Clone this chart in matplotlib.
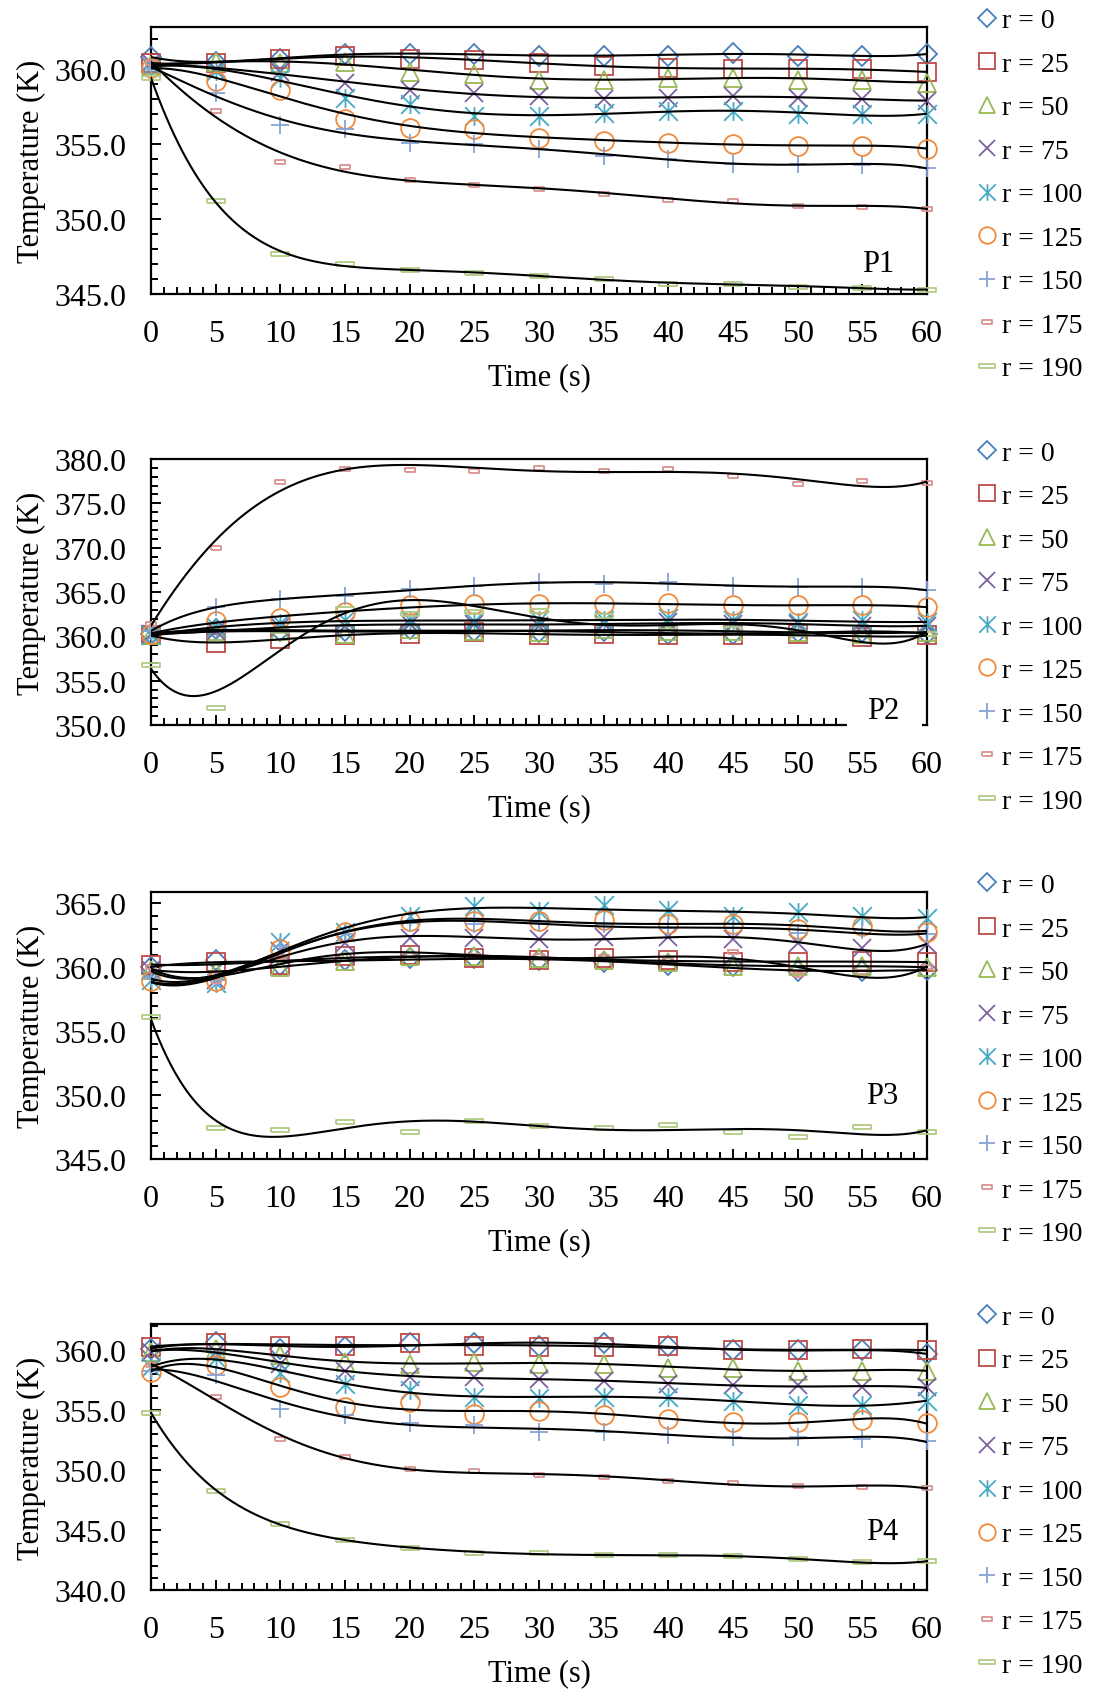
"""Radial temperature histories at four probe positions (P1-P4)."""
import matplotlib

matplotlib.use("Agg")
import matplotlib.pyplot as plt
import numpy as np
from matplotlib.lines import Line2D
from matplotlib.patches import Rectangle
from matplotlib.path import Path
from matplotlib.ticker import FormatStrFormatter, MultipleLocator

plt.rcParams["font.family"] = ["Liberation Serif", "DejaVu Serif"]

time_s = [0, 5, 10, 15, 20, 25, 30, 35, 40, 45, 50, 55, 60]
radii = [0, 25, 50, 75, 100, 125, 150, 175, 190]

# one row per radius, same order as `radii`
p1_temps = [
    [360.8, 360.5, 360.7, 361.0, 361.0, 361.0, 360.9, 360.9, 360.9, 361.1, 360.9, 360.9, 361.0],
    [360.4, 360.4, 360.7, 360.9, 360.7, 360.6, 360.4, 360.2, 360.1, 360.0, 360.0, 360.0, 359.8],
    [360.3, 360.5, 360.4, 360.5, 359.8, 359.7, 359.3, 359.3, 359.4, 359.4, 359.3, 359.3, 359.1],
    [360.4, 360.0, 359.8, 359.1, 358.6, 358.4, 358.2, 358.0, 358.1, 358.2, 358.1, 358.0, 357.9],
    [360.2, 359.9, 359.4, 358.1, 357.7, 356.9, 356.9, 357.1, 357.2, 357.2, 357.0, 357.0, 357.0],
    [360.1, 359.2, 358.6, 356.7, 356.1, 356.0, 355.4, 355.2, 355.1, 355.0, 354.9, 354.9, 354.7],
    [360.1, 358.4, 356.3, 356.0, 355.1, 355.0, 354.7, 354.2, 354.0, 353.7, 353.7, 353.6, 353.4],
    [360.4, 357.2, 353.8, 353.5, 352.6, 352.3, 352.0, 351.7, 351.3, 351.2, 350.9, 350.8, 350.7],
    [359.4, 351.2, 347.7, 347.0, 346.6, 346.4, 346.2, 346.0, 345.7, 345.7, 345.5, 345.4, 345.3],
]
p2_temps = [
    [360.3, 360.8, 360.6, 360.6, 360.8, 360.6, 360.5, 360.6, 360.3, 360.3, 360.5, 360.5, 360.3],
    [360.1, 359.3, 359.7, 360.1, 360.3, 360.5, 360.1, 360.3, 360.1, 360.1, 360.3, 359.9, 360.1],
    [360.1, 360.6, 360.6, 360.3, 360.8, 360.6, 360.5, 360.8, 360.6, 360.6, 360.5, 360.3, 360.5],
    [360.3, 360.6, 361.0, 361.2, 361.4, 361.4, 361.2, 361.4, 361.6, 361.4, 361.4, 361.2, 361.2],
    [360.1, 361.0, 361.5, 361.8, 361.8, 361.7, 361.8, 361.8, 362.1, 361.8, 361.6, 361.8, 361.6],
    [360.3, 361.7, 362.1, 362.7, 363.5, 363.6, 363.6, 363.6, 363.8, 363.5, 363.5, 363.5, 363.3],
    [360.6, 363.3, 364.2, 364.6, 365.3, 365.7, 366.1, 365.9, 366.1, 365.7, 365.6, 365.6, 365.2],
    [361.4, 370.0, 377.4, 378.9, 378.8, 378.7, 379.0, 378.6, 378.9, 378.1, 377.2, 377.5, 377.3],
    [356.8, 351.9, 360.6, 363.1, 362.5, 362.7, 362.9, 362.3, 361.0, 360.8, 360.3, 360.1, 360.3],
]
p3_temps = [
    [360.0, 360.6, 360.2, 360.6, 360.7, 360.7, 360.6, 360.4, 360.2, 360.1, 359.7, 359.7, 359.8],
    [360.2, 360.4, 360.2, 360.9, 361.0, 360.7, 360.6, 360.7, 360.6, 360.4, 360.4, 360.5, 360.4],
    [359.8, 359.7, 360.0, 360.5, 360.9, 360.9, 360.7, 360.6, 360.4, 360.1, 360.1, 360.1, 360.0],
    [359.8, 359.0, 361.3, 361.9, 362.3, 362.3, 362.2, 362.4, 362.4, 362.2, 361.9, 361.5, 361.8],
    [359.0, 358.8, 362.0, 362.8, 364.0, 364.8, 364.4, 364.9, 364.5, 364.0, 364.3, 364.0, 363.9],
    [358.9, 358.9, 361.4, 362.8, 363.6, 363.6, 363.6, 363.7, 363.4, 363.4, 363.0, 363.2, 362.8],
    [359.2, 359.0, 361.7, 362.6, 363.5, 363.4, 363.5, 363.4, 363.1, 363.1, 362.7, 362.9, 362.6],
    [360.0, 358.9, 360.8, 360.9, 361.0, 360.9, 360.9, 360.8, 360.6, 361.2, 359.4, 359.6, 360.0],
    [356.1, 347.4, 347.3, 347.9, 347.1, 348.0, 347.6, 347.4, 347.7, 347.1, 346.7, 347.5, 347.1],
]
p4_temps = [
    [360.1, 360.7, 360.1, 360.3, 360.6, 360.6, 360.4, 360.6, 360.4, 360.0, 360.0, 360.0, 359.7],
    [360.3, 360.6, 360.4, 360.4, 360.6, 360.4, 360.3, 360.3, 360.4, 360.0, 360.0, 360.1, 360.0],
    [359.9, 360.1, 359.6, 359.0, 358.9, 359.0, 358.9, 358.9, 358.5, 358.5, 358.3, 358.3, 358.3],
    [359.9, 359.9, 358.9, 358.3, 357.8, 357.8, 357.6, 357.4, 357.2, 357.1, 357.1, 356.9, 356.9],
    [358.6, 359.4, 358.1, 357.2, 356.7, 356.1, 356.0, 356.1, 356.1, 355.8, 355.4, 355.4, 355.8],
    [358.2, 358.8, 356.9, 355.3, 355.7, 354.7, 354.9, 354.6, 354.3, 354.0, 354.0, 354.2, 353.9],
    [358.3, 357.9, 355.1, 354.6, 353.9, 353.8, 353.2, 353.2, 352.9, 352.8, 352.8, 352.6, 352.4],
    [358.8, 356.1, 352.6, 351.1, 350.1, 349.9, 349.6, 349.4, 349.1, 348.9, 348.7, 348.6, 348.5],
    [354.8, 348.3, 345.5, 344.2, 343.5, 343.1, 343.1, 342.9, 342.9, 342.8, 342.6, 342.3, 342.4],
]

panel_names = ["P1", "P2", "P3", "P4"]
y_limits = [(345, 362.8), (350, 380), (345, 365.9), (340, 362.2)]


def _path(verts, codes=None):
    return Path(np.array(verts, dtype=float), codes)


# Excel-like marker shapes (asterisk, two hollow dashes)
M, L = Path.MOVETO, Path.LINETO
asterisk = _path([(-1, -1), (1, 1), (-1, 1), (1, -1), (0, -1), (0, 1)], [M, L, M, L, M, L])
short_dash = _path([(-1, -0.45), (1, -0.45), (1, 0.45), (-1, 0.45), (-1, -0.45)])
long_dash = _path([(-1, -0.27), (1, -0.27), (1, 0.27), (-1, 0.27), (-1, -0.27)])

styles = [
    dict(marker="D", ms=10.5, color="#4A7EBB"),
    dict(marker="s", ms=13.0, color="#BE4B48"),
    dict(marker="^", ms=12.5, color="#98B954"),
    dict(marker="x", ms=12.5, color="#7D60A0"),
    dict(marker=asterisk, ms=13.5, color="#46AAC5"),
    dict(marker="o", ms=13.5, color="#F08A3C"),
    dict(marker="+", ms=13.5, color="#86A4D5"),
    dict(marker=short_dash, ms=7.5, color="#D99290"),
    dict(marker=long_dash, ms=13.0, color="#B0CB85"),
]

# axes boxes in figure fraction: left, bottom, width, height
boxes = [
    (0.1379, 0.8254, 0.7087, 0.1580),
    (0.1379, 0.5704, 0.7087, 0.1574),
    (0.1379, 0.3136, 0.7087, 0.1580),
    (0.1379, 0.0586, 0.7087, 0.1574),
]
label_pos = [(0.937, 0.116), (0.943, 0.056), (0.942, 0.236), (0.942, 0.218)]
legend_tops = [0.9947, 0.7389, 0.4831, 0.2275]

fig = plt.figure(figsize=(10.95, 16.90), dpi=100)
t = np.array(time_s, dtype=float)
t_fit = np.linspace(0, 60, 400)

for i, temps in enumerate([p1_temps, p2_temps, p3_temps, p4_temps]):
    ax = fig.add_axes(boxes[i])
    handles = []
    for r, vals, st in zip(radii, temps, styles):
        vals = np.array(vals)
        ax.plot(t, vals, linestyle="none", marker=st["marker"], markersize=st["ms"],
                markerfacecolor="none", markeredgecolor=st["color"],
                markeredgewidth=1.3, clip_on=False, zorder=3)
        # 6th-order polynomial trendline, as in the spreadsheet original
        coef = np.polyfit(t, vals, 6)
        ax.plot(t_fit, np.polyval(coef, t_fit), color="black", lw=1.5, zorder=4)
        handles.append(Line2D([], [], linestyle="none", marker=st["marker"],
                              markersize=st["ms"] * 0.88, markerfacecolor="none",
                              markeredgecolor=st["color"], markeredgewidth=1.3,
                              label=f"r = {r}"))

    ax.set_xlim(0, 60)
    ax.set_ylim(*y_limits[i])
    ax.xaxis.set_major_locator(MultipleLocator(5))
    ax.xaxis.set_minor_locator(MultipleLocator(1))
    ax.yaxis.set_major_locator(MultipleLocator(5))
    ax.yaxis.set_minor_locator(MultipleLocator(1))
    ax.yaxis.set_major_formatter(FormatStrFormatter("%.1f"))
    ax.tick_params(which="both", direction="in", top=False, right=False,
                   labelsize=23, width=1.4, pad=18)
    ax.tick_params(which="major", length=7)
    ax.tick_params(which="minor", length=5)
    for sp in ax.spines.values():
        sp.set_linewidth(1.6)
    ax.set_xlabel("Time (s)", fontsize=22, labelpad=10)
    ax.set_ylabel("Temperature (K)", fontsize=22, labelpad=6)

    lx, ly = label_pos[i]
    if i == 1:
        # the P2 label box hides the end of the time axis
        ax.add_patch(Rectangle((0.897, -0.05), 0.0965, 0.16, transform=ax.transAxes,
                               facecolor="white", edgecolor="none", clip_on=False, zorder=10))
    ax.text(lx, ly, panel_names[i], transform=ax.transAxes, fontsize=22,
            ha="center", va="center", zorder=11)

    ax.legend(handles=handles, loc="upper left", bbox_to_anchor=(0.891, legend_tops[i]),
              bbox_transform=fig.transFigure, frameon=False, fontsize=20,
              handlelength=0.8, handletextpad=0.15, labelspacing=0.65,
              borderpad=0, borderaxespad=0)

fig.savefig("out.png", dpi=100)
